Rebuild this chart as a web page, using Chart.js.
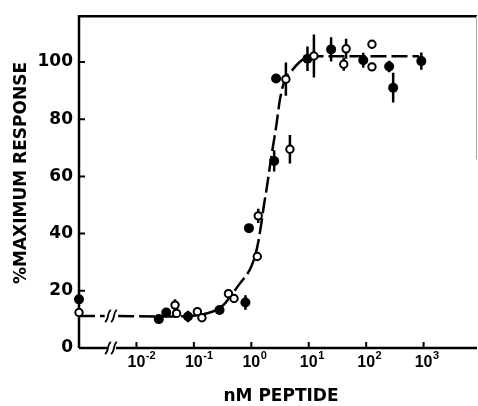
<!DOCTYPE html>
<html>
<head>
<meta charset="utf-8">
<script src="https://cdn.jsdelivr.net/npm/chart.js@4.4.0/dist/chart.umd.min.js"></script>
<style>
  html, body { margin: 0; padding: 0; background: #fff; }
</style>
</head>
<body>
<canvas id="chart" width="478" height="406"></canvas>
<script>
// nM peptide; 0.001 stands for the "no peptide" control drawn at the broken left end
const filledDose = [0.001, 0.0245, 0.033, 0.079, 0.28, 0.79, 0.91, 2.5, 2.7, 9.5, 24.5, 89, 251, 295, 912];
const filledResp = [17.0, 10.1, 12.4, 11.0, 13.3, 15.9, 41.9, 65.4, 94.2, 101.1, 104.4, 100.6, 98.4, 91.0, 100.3];
const filledErr = [1.2, 0, 0, 2, 0, 2.5, 0, 3.7, 0, 4.3, 4.2, 2.6, 2, 5.2, 3];

const openDose = [0.001, 0.047, 0.05, 0.115, 0.138, 0.40, 0.50, 1.27, 1.32, 4.0, 4.7, 12.3, 40.7, 44.7, 126, 126];
const openResp = [12.4, 15.0, 12.1, 12.7, 10.6, 19.0, 17.3, 32.0, 46.2, 94.0, 69.5, 102.1, 99.2, 104.6, 106.2, 98.3];
const openErr = [0, 2, 0, 0, 0, 0, 0, 1.5, 2.5, 5.8, 5, 7.5, 2.3, 3.5, 1.5, 1.5];

// fitted curve (null = axis break)
const curveDose = [0.001, 0.0028, 0.0035, 0.0048, 0.025, 0.1, 0.158, 0.25, 0.355, 0.447, 0.63, 1.0, 1.26, 1.48, 1.66, 1.86, 2.09, 2.34, 2.69, 3.16, 3.8, 5.0, 6.8, 8.9, 15.8, 832];
const curveResp = [11.2, 11.2, null, 11.2, 11.0, 11.3, 12.0, 13.3, 15.8, 18.5, 22.5, 28.5, 35, 43, 50, 56, 63, 69.5, 77, 87, 93.5, 96.8, 99.8, 101.5, 102, 102];

const yTicks = [0, 20, 40, 60, 80, 100];
const xTicks = [0.01, 0.1, 1, 10, 100, 1000];
const xTickExp = ['-2', '-1', '0', '1', '2', '3'];
const breakDose = 0.0036;

const pts = (xs, ys) => xs.map((x, i) => ({ x: x, y: ys[i] }));

const frame = {
  id: 'frame',
  beforeDatasetsDraw(chart) {
    const { ctx, chartArea: a, scales: { x, y } } = chart;
    ctx.save();
    ctx.strokeStyle = '#000';
    ctx.lineWidth = 2.5;
    ctx.beginPath();
    ctx.moveTo(a.left, a.bottom);
    ctx.lineTo(a.left, a.top);
    ctx.lineTo(a.right, a.top);
    ctx.moveTo(a.left, a.bottom);
    ctx.lineTo(a.right, a.bottom);
    ctx.stroke();

    ctx.strokeStyle = '#aaa';
    ctx.lineWidth = 1;
    ctx.beginPath();
    ctx.moveTo(a.right - 0.5, a.top);
    ctx.lineTo(a.right - 0.5, a.top + 143);
    ctx.stroke();

    ctx.strokeStyle = '#000';
    ctx.lineWidth = 2;
    ctx.beginPath();
    yTicks.forEach(v => {
      const py = y.getPixelForValue(v);
      ctx.moveTo(a.left, py);
      ctx.lineTo(a.left + 6, py);
    });
    xTicks.forEach(v => {
      const px = x.getPixelForValue(v);
      ctx.moveTo(px, a.bottom);
      ctx.lineTo(px, a.bottom - 6);
    });
    ctx.stroke();

    // error bars
    ctx.lineWidth = 2.5;
    ctx.beginPath();
    const bars = (xs, ys, es) => xs.forEach((d, i) => {
      if (!es[i]) return;
      const px = x.getPixelForValue(d);
      ctx.moveTo(px, y.getPixelForValue(ys[i] - es[i]));
      ctx.lineTo(px, y.getPixelForValue(ys[i] + es[i]));
    });
    bars(filledDose, filledResp, filledErr);
    bars(openDose, openResp, openErr);
    ctx.stroke();
    ctx.restore();
  },
  afterDatasetsDraw(chart) {
    const { ctx, chartArea: a, scales: { x, y } } = chart;
    const bx = x.getPixelForValue(breakDose);
    ctx.save();
    ctx.fillStyle = '#fff';
    ctx.fillRect(bx - 4, a.bottom - 2, 9, 4);
    ctx.strokeStyle = '#000';
    ctx.lineWidth = 1.8;
    [a.bottom, y.getPixelForValue(11.2)].forEach(py => {
      [-3, 3].forEach(dx => {
        const cx = bx + dx;
        ctx.beginPath();
        ctx.moveTo(cx - 3, py + 6);
        ctx.bezierCurveTo(cx + 1, py + 4, cx - 1, py - 4, cx + 3, py - 6);
        ctx.stroke();
      });
    });
    ctx.restore();
  },
  afterDraw(chart) {
    const { ctx, scales: { x } } = chart;
    ctx.save();
    ctx.fillStyle = '#000';
    xTicks.forEach((v, i) => {
      const px = x.getPixelForValue(v);
      ctx.font = 'bold 16px "Liberation Sans"';
      ctx.textAlign = 'center';
      ctx.textBaseline = 'alphabetic';
      const w = ctx.measureText('10').width;
      ctx.fillText('10', px, 367);
      ctx.font = 'bold 11px "Liberation Sans"';
      ctx.textAlign = 'left';
      ctx.fillText(xTickExp[i], px + w / 2 + 0.5, 359);
    });

    ctx.font = 'bold 17px "DejaVu Sans"';
    ctx.textAlign = 'center';
    ctx.textBaseline = 'middle';
    ctx.fillText('nM PEPTIDE', 281, 397);

    ctx.translate(22, 173);
    ctx.rotate(-Math.PI / 2);
    ctx.fillText('%MAXIMUM RESPONSE', 0, 0);
    ctx.restore();
  }
};

new Chart(document.getElementById('chart'), {
  type: 'scatter',
  data: {
    datasets: [
      {
        type: 'line',
        data: pts(curveDose, curveResp),
        borderColor: '#000',
        borderWidth: 2.5,
        borderDash: [16, 5],
        pointRadius: 0,
        cubicInterpolationMode: 'monotone',
        spanGaps: false,
        fill: false,
        clip: false,
        order: 3
      },
      {
        data: pts(filledDose, filledResp),
        pointRadius: 5,
        backgroundColor: '#000',
        borderColor: '#000',
        borderWidth: 0,
        clip: false,
        order: 2
      },
      {
        data: pts(openDose, openResp),
        pointRadius: 3.7,
        backgroundColor: '#fff',
        borderColor: '#000',
        borderWidth: 2,
        clip: false,
        order: 1
      }
    ]
  },
  options: {
    responsive: false,
    animation: false,
    layout: { autoPadding: false, padding: { top: 14, right: 1, left: 0, bottom: 0 } },
    plugins: { legend: { display: false }, tooltip: { enabled: false } },
    scales: {
      x: {
        type: 'logarithmic',
        min: 0.001,
        max: 8500,
        border: { display: false },
        grid: { display: false, drawTicks: false },
        ticks: { display: false },
        afterFit(s) { s.height = 58; }
      },
      y: {
        min: 0,
        max: 116,
        border: { display: false },
        grid: { display: false, drawTicks: false },
        ticks: {
          color: '#000',
          padding: 6,
          font: { family: 'DejaVu Sans', weight: 'bold', size: 17 }
        },
        afterBuildTicks(s) { s.ticks = yTicks.map(v => ({ value: v })); },
        afterFit(s) { s.width = 79; }
      }
    }
  },
  plugins: [frame]
});
</script>
</body>
</html>
